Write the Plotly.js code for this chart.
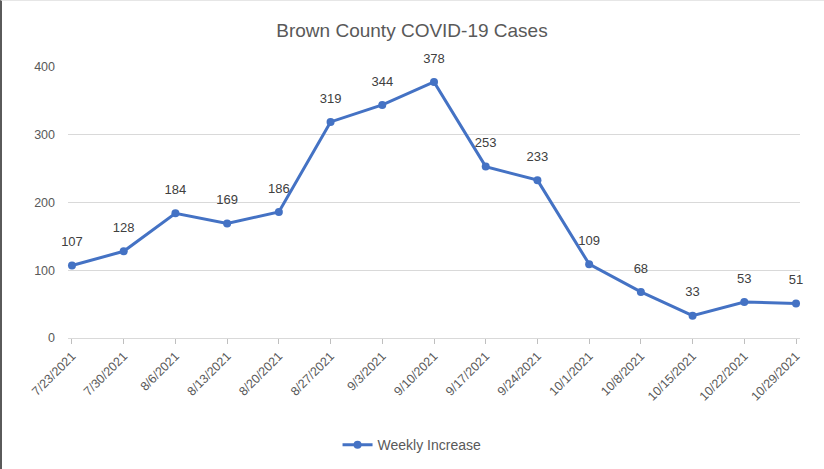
<!DOCTYPE html>
<html>
<head>
<meta charset="utf-8">
<script src="https://cdn.plot.ly/plotly-3.0.1.min.js"></script>
<style>
html,body{margin:0;padding:0;background:#fff;}
#wrap{position:relative;width:824px;height:469px;}
#chart{width:824px;height:469px;}
#edge{position:absolute;left:0;top:0;width:822px;height:469px;border-left:2px solid #5a5a5a;border-top:1px solid #e6e6e6;pointer-events:none;}
</style>
</head>
<body>
<div id="wrap"><div id="chart"></div><div id="edge"></div></div>
<script>
const dates = ["7/23/2021","7/30/2021","8/6/2021","8/13/2021","8/20/2021","8/27/2021","9/3/2021","9/10/2021","9/17/2021","9/24/2021","10/1/2021","10/8/2021","10/15/2021","10/22/2021","10/29/2021"];
const weeklyIncrease = [107,128,184,169,186,319,344,378,253,233,109,68,33,53,51];
const seriesName = "Weekly Increase";
const yTicks = [0,100,200,300,400];

const lineTrace = {
  x: dates,
  y: weeklyIncrease,
  name: seriesName,
  type: "scatter",
  mode: "lines+markers",
  line: {color: "#4472C4", width: 3},
  marker: {color: "#4472C4", size: 8},
  cliponaxis: false,
  hoverinfo: "x+y"
};

const labelTrace = {
  x: dates,
  y: weeklyIncrease,
  type: "scatter",
  mode: "markers+text",
  text: weeklyIncrease.map(String),
  textposition: "top center",
  textfont: {family: "Liberation Sans, Arial, sans-serif", size: 13, color: "#404040"},
  marker: {color: "rgba(0,0,0,0)", size: 24},
  cliponaxis: false,
  showlegend: false,
  hoverinfo: "skip"
};

const layout = {
  width: 824,
  height: 469,
  autosize: false,
  margin: {l: 68, r: 24, t: 67, b: 131, autoexpand: false},
  paper_bgcolor: "#ffffff",
  plot_bgcolor: "#ffffff",
  font: {family: "Liberation Sans, Arial, sans-serif", color: "#595959", size: 12},
  title: {
    text: "Brown County COVID-19 Cases",
    font: {family: "Liberation Sans, Arial, sans-serif", size: 19, color: "#595959"},
    x: 0.5, xref: "container", xanchor: "center",
    y: 0.936, yref: "container", yanchor: "middle",
    automargin: false
  },
  xaxis: {
    type: "category",
    range: [-0.077, 14.077],
    tickangle: -45,
    ticks: "outside",
    ticklen: 5,
    tickcolor: "#bfbfbf",
    showline: true,
    linecolor: "#d9d9d9",
    showgrid: false,
    tickfont: {size: 12.5, color: "#595959"},
    automargin: false,
    fixedrange: true
  },
  yaxis: {
    range: [0, 400],
    tickvals: yTicks,
    ticktext: yTicks.map(String),
    showgrid: true,
    gridcolor: "#d9d9d9",
    zeroline: false,
    showline: false,
    ticks: "",
    ticklabelstandoff: 12,
    tickfont: {size: 12.5, color: "#595959"},
    automargin: false,
    fixedrange: true
  },
  showlegend: true,
  legend: {
    orientation: "h",
    x: 0.47, xanchor: "center",
    y: -0.395, yanchor: "middle",
    font: {size: 14, color: "#595959"},
    bgcolor: "rgba(0,0,0,0)"
  }
};

Plotly.newPlot("chart", [lineTrace, labelTrace], layout, {displayModeBar: false, staticPlot: true});
</script>
</body>
</html>
